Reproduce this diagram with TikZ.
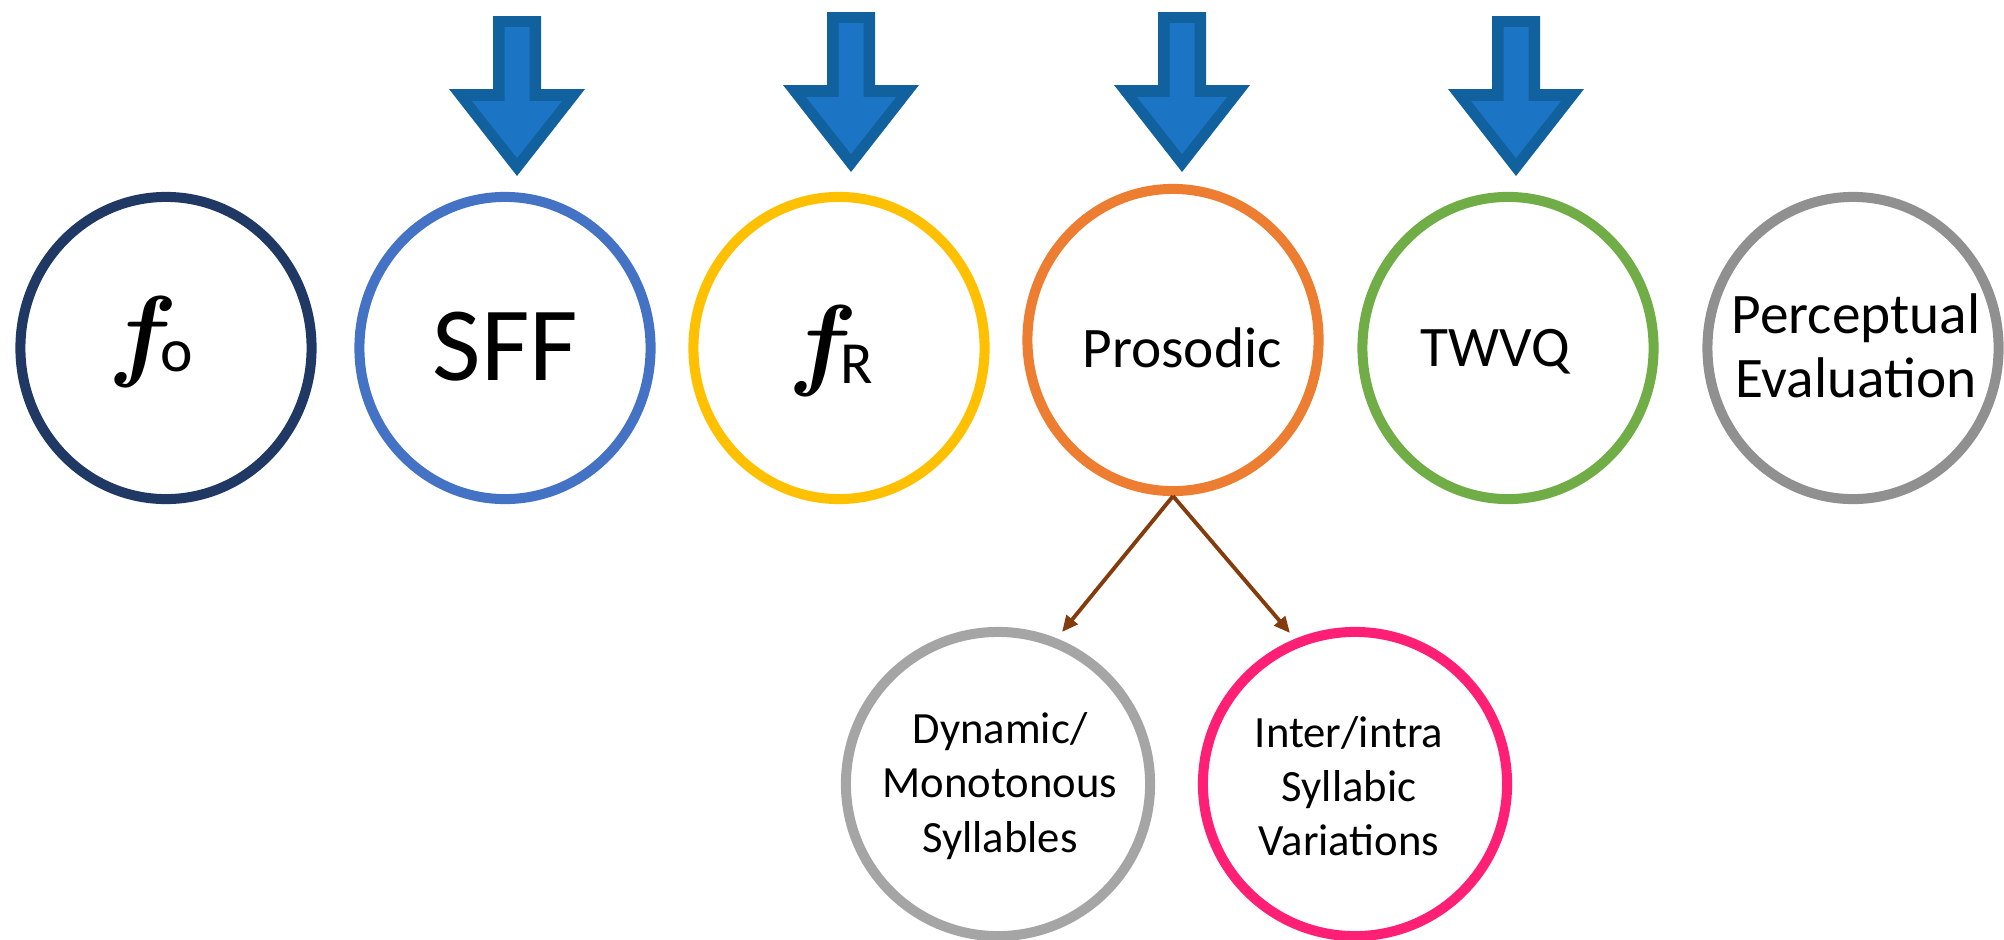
\RequirePackage{fix-cm}
\documentclass[tikz,border=0pt]{standalone}
\usepackage{fontspec}
\setmainfont{Carlito}
\usetikzlibrary{shapes.geometric,arrows.meta}
\definecolor{cNavy}{HTML}{203864}
\definecolor{cBlue}{HTML}{4472C4}
\definecolor{cGold}{HTML}{FFC000}
\definecolor{cOrange}{HTML}{ED7D31}
\definecolor{cGreen}{HTML}{70AD47}
\definecolor{cGrayA}{HTML}{909090}
\definecolor{cGrayB}{HTML}{A5A5A5}
\definecolor{cPink}{HTML}{FF1F74}
\definecolor{cBrown}{HTML}{843C0C}
\definecolor{cArrFill}{HTML}{1B75C4}
\definecolor{cArrEdge}{HTML}{10619D}
\begin{document}
\begin{tikzpicture}[x=0.01cm,y=-0.01cm,
  ring/.style={draw, ellipse, inner sep=0pt, line width=2.85pt,
    minimum width=2.91cm, minimum height=3.02cm},
  subring/.style={ring, minimum width=3.04cm, minimum height=3.04cm},
  lbl/.style={inner sep=0pt, text=black},
  mid/.style={lbl, font=\fontsize{16.3}{18.2}\selectfont, align=center},
  small/.style={lbl, font=\fontsize{12.7}{15.4}\selectfont, align=center},
  conn/.style={draw=cBrown, line width=1.1pt, -{Triangle[length=4.6pt,width=4pt]}},
  blockarrow/.pic={
    \fill[cArrEdge] (-24,0) -- (24,0) -- (24,73) -- (68,73) -- (0,160) -- (-68,73) -- (-24,73) -- cycle;
    \fill[cArrFill] (-12.5,11) -- (12.5,11) -- (12.5,85) -- (45,85) -- (0,142) -- (-45,85) -- (-12.5,85) -- cycle;
  }]
\useasboundingbox (0,0) rectangle (2004,939);

% block arrows
\pic at (517,16) {blockarrow};
\pic at (851,12) {blockarrow};
\pic at (1182,12) {blockarrow};
\pic at (1516,16) {blockarrow};

% rings
\node[ring, draw=cNavy]   (fo)   at (166,348) {};
\node[ring, draw=cBlue]   (sff)  at (505,348) {};
\node[ring, draw=cGold]   (fr)   at (839,348) {};
\node[ring, draw=cOrange] (pros) at (1173,340) {};
\node[ring, draw=cGreen]  (twvq) at (1508,348) {};
\node[ring, draw=cGrayA]  (perc) at (1853,348) {};
\node[subring, draw=cGrayB] (dyn)   at (998,784) {};
\node[subring, draw=cPink]  (inter) at (1355,784) {};

% labels
\node[lbl, anchor=base west] (foT) at (108,367)
  {{\fontsize{29}{32}\selectfont\boldmath$f$\kern-5pt}{\fontsize{17.5}{20}\selectfont\raisebox{-1.4pt}{o}}};
\node[lbl, anchor=base west] (frT) at (788,376)
  {{\fontsize{29}{32}\selectfont\boldmath$f$\kern-5pt}{\fontsize{17}{20}\selectfont\raisebox{-2pt}{R}}};
\node[lbl, anchor=base, font=\fontsize{30}{36}\selectfont] (sffT) at (505.5,380) {SFF};
\node[mid, anchor=base] (prosT) at (1182,367) {Prosodic};
\node[mid, anchor=base] (twvqT) at (1495.5,366) {TWVQ};
\node[mid] (percT) at (1856,346) {Perceptual\\Evaluation};
\node[small] (dynT) at (1000,786) {Dynamic/\\Monotonous\\Syllables};
\node[small] (interT) at (1349,786) {Inter/intra\\Syllabic\\Variations};

% connectors
\coordinate (dynTip) at (1062,632);
\coordinate (interTip) at (1290,633);
\draw[conn] (pros.south) -- (dynTip);
\draw[conn] (pros.south) -- (interTip);
\end{tikzpicture}
\end{document}
